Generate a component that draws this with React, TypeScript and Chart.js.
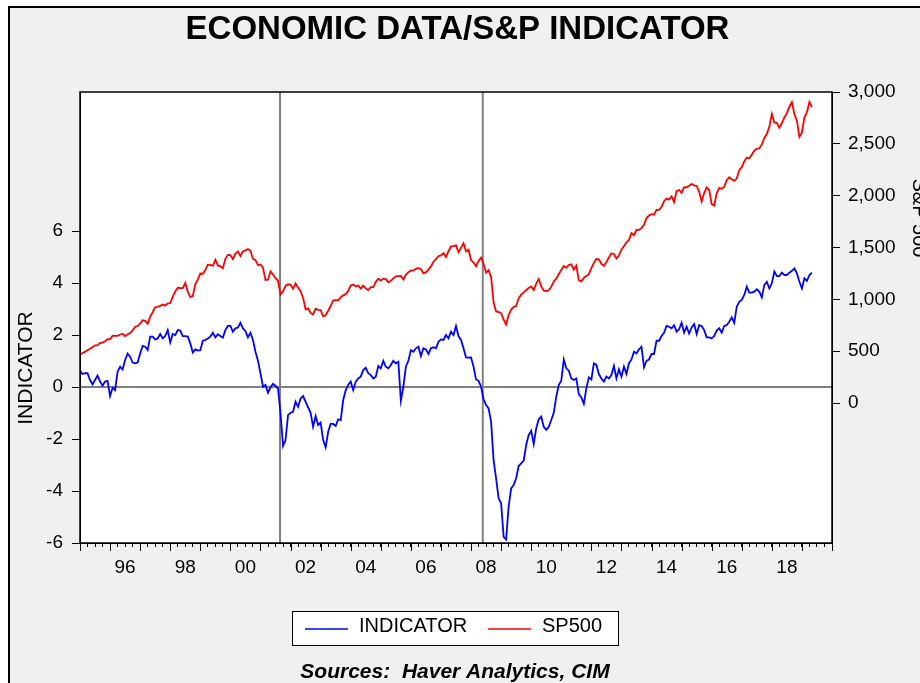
import React, { useEffect, useRef } from 'react';
import { Chart, registerables } from 'chart.js';

Chart.register(...registerables);

const START_YEAR = 1995;

const indicator = [
  0.63, 0.50, 0.53, 0.53, 0.27, 0.10, 0.27, 0.44, 0.21, 0.05, 0.21, 0.24, -0.35, -0.03, -0.12,
  0.59, 0.78, 0.68, 1.04, 1.29, 1.17, 0.94, 0.91, 0.94, 1.29, 1.58, 1.55, 1.42, 1.94, 1.94,
  1.83, 1.87, 2.04, 1.87, 1.96, 2.19, 1.71, 2.04, 2.00, 2.19, 2.17, 1.96, 1.96, 1.94, 1.68,
  1.33, 1.45, 1.40, 1.42, 1.78, 1.81, 1.87, 1.94, 2.09, 1.91, 2.03, 1.96, 1.90, 2.19, 2.35,
  2.35, 2.13, 2.26, 2.29, 2.47, 2.26, 2.15, 1.91, 2.09, 1.81, 1.36, 1.01, 0.53, 0.01, 0.08,
  -0.22, -0.01, 0.12, 0.04, -0.05,
  -1.01, -2.27, -2.04, -1.08, -0.99, -0.95, -0.56, -0.76, -0.44, -0.35,
  -0.56, -0.78, -0.99, -1.53, -1.12, -1.46, -1.37, -2.04, -2.32, -1.72,
  -1.42, -1.42, -1.50, -1.24, -1.27, -0.50, -0.12, 0.08, 0.21, -0.12,
  0.21, 0.33, 0.40, 0.65, 0.74, 0.53, 0.46, 0.33, 0.40, 0.81,
  0.72, 1.01, 0.78, 0.72, 0.85, 1.01, 0.91, 0.97, -0.53, 0.01,
  0.78, 1.01, 1.42, 1.36, 1.49, 1.55, 1.19, 1.49, 1.45, 1.27,
  1.49, 1.53, 1.49, 1.74, 1.83, 1.81, 2.00, 1.87, 2.13, 2.00,
  2.35, 1.96, 1.81, 1.49, 1.14, 1.13,
  1.14, 0.78, 0.29, 0.24, 0.01, -0.47, -0.69, -0.82, -1.33, -2.81,
  -3.51, -4.28, -4.47, -5.76, -5.86, -4.60, -3.90, -3.77, -3.51, -3.04,
  -2.94, -2.83, -2.23, -1.85, -1.68, -2.19, -1.59, -1.24, -1.14, -1.53,
  -1.65, -1.53, -1.27, -0.99, -0.37, 0.08, 0.24, 1.06, 0.72, 0.63,
  0.33, 0.27, 0.33, -0.27, -0.40, -0.65, -0.05, 0.37, 0.29, 0.91,
  0.85, 0.50, 0.33, 0.21, 0.40, 0.33, 0.46, 0.81, 0.33, 0.68,
  0.40, 0.78, 0.50, 0.91, 1.06, 1.36, 1.29, 1.45, 1.55, 0.76,
  1.01, 1.06,
  1.27, 1.27, 1.78, 1.78, 1.96, 2.09, 2.35, 2.32, 2.26, 2.38,
  2.13, 2.22, 2.47, 2.09, 2.32, 2.06, 2.29, 2.42, 2.04, 2.38,
  2.35, 2.19, 1.91, 1.91, 1.87, 1.96, 2.17, 2.26, 2.09, 2.35,
  2.38, 2.51, 2.68, 2.47, 3.09, 3.28, 3.35, 3.54, 3.86, 3.63,
  3.63, 3.67, 3.76, 3.67, 3.45, 3.92, 4.05, 3.79, 3.99, 4.44,
  4.27, 4.27, 4.40, 4.31, 4.31, 4.40, 4.47, 4.56, 4.37, 4.05,
  3.79, 4.18, 4.08, 4.31, 4.40,
];

const sp500 = [
  465, 482, 493, 508, 524, 539, 557, 559, 579, 583, 596, 615,
  614, 650, 647, 647, 661, 669, 644, 663, 675, 701, 736, 743,
  766, 798, 792, 764, 833, 876, 925, 928, 937, 951, 939, 962,
  963, 1024, 1077, 1112, 1108, 1108, 1157, 1075, 1021, 1032, 1144, 1190,
  1249, 1247, 1282, 1335, 1332, 1323, 1381, 1327, 1318, 1300, 1391, 1429,
  1426, 1389, 1442, 1461, 1418, 1462, 1473, 1485, 1468, 1390, 1378, 1331,
  1336, 1306, 1186, 1190, 1270, 1239, 1204, 1179, 1045, 1077, 1130, 1145,
  1140, 1101, 1154, 1112, 1079, 1014, 904, 913, 868, 855, 910, 899,
  896, 837, 847, 890, 936, 988, 993, 990, 1019, 1039, 1050, 1081,
  1133, 1143, 1124, 1133, 1103, 1133, 1106, 1089, 1118, 1118, 1169, 1199,
  1181, 1200, 1195, 1164, 1178, 1202, 1222, 1224, 1226, 1192, 1237, 1262,
  1279, 1277, 1294, 1302, 1290, 1253, 1260, 1287, 1318, 1363, 1389, 1416,
  1424, 1445, 1407, 1464, 1511, 1514, 1521, 1455, 1497, 1540, 1463, 1479,
  1379, 1355, 1317, 1370, 1403, 1341, 1257, 1281, 1217, 969, 883, 878,
  866, 805, 757, 848, 902, 926, 936, 1010, 1045, 1068, 1088, 1110,
  1124, 1089, 1152, 1197, 1125, 1083, 1080, 1087, 1122, 1172, 1199, 1242,
  1283, 1321, 1304, 1332, 1338, 1287, 1325, 1185, 1174, 1207, 1226, 1243,
  1301, 1352, 1389, 1386, 1341, 1323, 1360, 1403, 1443, 1438, 1395, 1422,
  1480, 1512, 1551, 1571, 1640, 1619, 1669, 1670, 1687, 1720, 1784, 1808,
  1822, 1817, 1864, 1864, 1890, 1947, 1973, 1962, 1993, 1937, 2045, 2054,
  2028, 2082, 2080, 2095, 2112, 2099, 2094, 2040, 1944, 2025, 2081, 2054,
  1919, 1904, 2022, 2076, 2066, 2084, 2149, 2177, 2158, 2143, 2165, 2247,
  2275, 2330, 2367, 2359, 2395, 2434, 2454, 2456, 2493, 2557, 2594, 2664,
  2790, 2705, 2703, 2654, 2701, 2754, 2794, 2858, 2902, 2785, 2723, 2567,
  2607, 2755, 2804, 2904, 2855,
];

const leftTicks = [-6, -4, -2, 0, 2, 4, 6];
const rightTicks = [0, 500, 1000, 1500, 2000, 2500, 3000];
const xLabelYears = [1996, 1998, 2000, 2002, 2004, 2006, 2008, 2010, 2012, 2014, 2016, 2018];
const xLabelTexts = ['96', '98', '00', '02', '04', '06', '08', '10', '12', '14', '16', '18'];
const markerDates = [2001.65, 2008.39];

const TITLE = 'ECONOMIC DATA/S&P INDICATOR';
const LEFT_TITLE = 'INDICATOR';
const RIGHT_TITLE = 'S&P 500';
const SOURCE = 'Sources:  Haver Analytics, CIM';
const FONT = '"Liberation Sans", Arial, Helvetica, sans-serif';

const X_MIN = 1995;
const X_MAX = 2020;

const decorPlugin = {
  id: 'decor',
  beforeDraw(chart: any) {
    const { ctx, chartArea: a, width, height } = chart;
    ctx.save();
    ctx.fillStyle = '#ffffff';
    ctx.fillRect(0, 0, width, height);
    ctx.fillStyle = '#f0f0f0';
    ctx.fillRect(9, 7, width - 9, height - 7);
    ctx.fillStyle = '#000000';
    ctx.fillRect(8, 6, 2, height - 6);
    ctx.fillRect(8, 6, width - 8, 2);
    ctx.fillStyle = '#ffffff';
    ctx.fillRect(a.left, a.top, a.right - a.left, a.bottom - a.top);
    ctx.restore();
  },
  beforeDatasetsDraw(chart: any) {
    const { ctx, chartArea: a, scales } = chart;
    ctx.save();
    ctx.strokeStyle = '#808080';
    ctx.lineWidth = 2;
    const y0 = scales.y.getPixelForValue(0);
    ctx.beginPath();
    ctx.moveTo(a.left, y0);
    ctx.lineTo(a.right, y0);
    ctx.stroke();
    markerDates.forEach((d) => {
      const px = scales.x.getPixelForValue(d);
      ctx.beginPath();
      ctx.moveTo(px, a.top);
      ctx.lineTo(px, a.bottom);
      ctx.stroke();
    });
    ctx.restore();
  },
  afterDraw(chart: any) {
    const { ctx, chartArea: a, scales, data } = chart;
    ctx.save();
    // frame
    ctx.strokeStyle = '#000000';
    ctx.lineWidth = 1.5;
    ctx.strokeRect(a.left, a.top, a.right - a.left, a.bottom - a.top);
    // yearly (major) ticks
    ctx.lineWidth = 1;
    for (let yr = X_MIN; yr <= X_MAX; yr++) {
      const px = Math.round(scales.x.getPixelForValue(yr)) + 0.5;
      ctx.beginPath();
      ctx.moveTo(px, a.bottom);
      ctx.lineTo(px, a.bottom + 8);
      ctx.stroke();
    }
    // title
    ctx.fillStyle = '#000000';
    ctx.textAlign = 'center';
    ctx.textBaseline = 'alphabetic';
    ctx.font = `bold 33px ${FONT}`;
    ctx.fillText(TITLE, 457.5, 39);
    // left axis title
    ctx.font = `21px ${FONT}`;
    ctx.save();
    ctx.translate(32, 368);
    ctx.rotate(-Math.PI / 2);
    ctx.fillText(LEFT_TITLE, 0, 0);
    ctx.restore();
    // right axis title
    ctx.font = `20px ${FONT}`;
    ctx.save();
    ctx.translate(913, 218);
    ctx.rotate(Math.PI / 2);
    ctx.fillText(RIGHT_TITLE, 0, 0);
    ctx.restore();
    // legend
    const lx = 292.5, ly = 611.5, lw = 326, lh = 34;
    ctx.fillStyle = '#ffffff';
    ctx.fillRect(lx, ly, lw, lh);
    ctx.strokeStyle = '#000000';
    ctx.lineWidth = 1;
    ctx.strokeRect(lx, ly, lw, lh);
    const items = [
      { lineStart: 305, textX: 359 },
      { lineStart: 488, textX: 542 },
    ];
    ctx.font = `20px ${FONT}`;
    ctx.textAlign = 'left';
    data.datasets.forEach((ds: any, i: number) => {
      const it = items[i];
      ctx.strokeStyle = ds.borderColor;
      ctx.lineWidth = 1.5;
      ctx.beginPath();
      ctx.moveTo(it.lineStart, 629);
      ctx.lineTo(it.lineStart + 43, 629);
      ctx.stroke();
      ctx.fillStyle = '#000000';
      ctx.fillText(ds.label, it.textX, 632);
    });
    // source
    ctx.textAlign = 'center';
    ctx.font = `italic bold 21px ${FONT}`;
    ctx.fillText(SOURCE, 455, 678);
    ctx.restore();
  },
};

export default function App() {
  const ref = useRef<HTMLCanvasElement | null>(null);

  useEffect(() => {
    if (!ref.current) return;
    const quarters: number[] = [];
    for (let q = X_MIN * 4; q <= X_MAX * 4; q++) quarters.push(q / 4);

    const chart = new Chart(ref.current, {
      type: 'line',
      data: {
        datasets: [
          {
            label: 'INDICATOR',
            data: indicator.map((v, i) => ({ x: START_YEAR + i / 12, y: v })),
            borderColor: '#0000ff',
            borderWidth: 1.8,
            pointRadius: 0,
            tension: 0,
            yAxisID: 'y',
          },
          {
            label: 'SP500',
            data: sp500.map((v, i) => ({ x: START_YEAR + i / 12, y: v })),
            borderColor: '#ff0000',
            borderWidth: 1.8,
            pointRadius: 0,
            tension: 0,
            yAxisID: 'y2',
          },
        ],
      },
      options: {
        responsive: false,
        animation: false,
        events: [],
        layout: { padding: { top: 92, left: 0, right: 0, bottom: 0 } },
        plugins: {
          legend: { display: false },
          title: { display: false },
          tooltip: { enabled: false },
        },
        scales: {
          x: {
            type: 'linear',
            position: 'bottom',
            min: X_MIN,
            max: X_MAX,
            afterBuildTicks: (s: any) => {
              s.ticks = quarters.map((v) => ({ value: v }));
            },
            afterFit: (s: any) => {
              s.height = 140;
            },
            grid: { drawOnChartArea: false, drawTicks: true, tickLength: 4, tickColor: '#000000', tickWidth: 1 },
            border: { display: true, color: '#000000', width: 1 },
            ticks: {
              autoSkip: false,
              maxRotation: 0,
              minRotation: 0,
              padding: 9,
              color: '#000000',
              font: { family: FONT, size: 19 },
              callback: (v: any) => {
                const i = xLabelYears.findIndex((y) => Math.abs(y + 0.5 - Number(v)) < 1e-6);
                return i >= 0 ? xLabelTexts[i] : '';
              },
            },
          },
          y: {
            type: 'linear',
            position: 'left',
            min: -6,
            max: 11.35,
            afterBuildTicks: (s: any) => {
              s.ticks = leftTicks.map((v) => ({ value: v }));
            },
            afterFit: (s: any) => {
              s.width = 80;
            },
            grid: { drawOnChartArea: false, drawTicks: true, tickLength: 8, tickColor: '#000000' },
            border: { display: true, color: '#000000', width: 1 },
            ticks: {
              padding: 9,
              color: '#000000',
              font: { family: FONT, size: 19 },
              callback: (v: any) => String(v),
            },
          },
          y2: {
            type: 'linear',
            position: 'right',
            min: -1350,
            max: 3000,
            afterBuildTicks: (s: any) => {
              s.ticks = rightTicks.map((v) => ({ value: v }));
            },
            afterFit: (s: any) => {
              s.width = 88;
            },
            grid: { drawOnChartArea: false, drawTicks: true, tickLength: 8, tickColor: '#000000' },
            border: { display: true, color: '#000000', width: 1 },
            ticks: {
              padding: 8,
              color: '#000000',
              font: { family: FONT, size: 19 },
              callback: (v: any) => Number(v).toLocaleString('en-US'),
            },
          },
        },
      },
      plugins: [decorPlugin],
    } as any);

    return () => {
      chart.destroy();
    };
  }, []);

  return (
    <div style={{ position: 'absolute', left: 0, top: 0 }}>
      <canvas ref={ref} width={920} height={683} style={{ display: 'block' }} />
    </div>
  );
}
